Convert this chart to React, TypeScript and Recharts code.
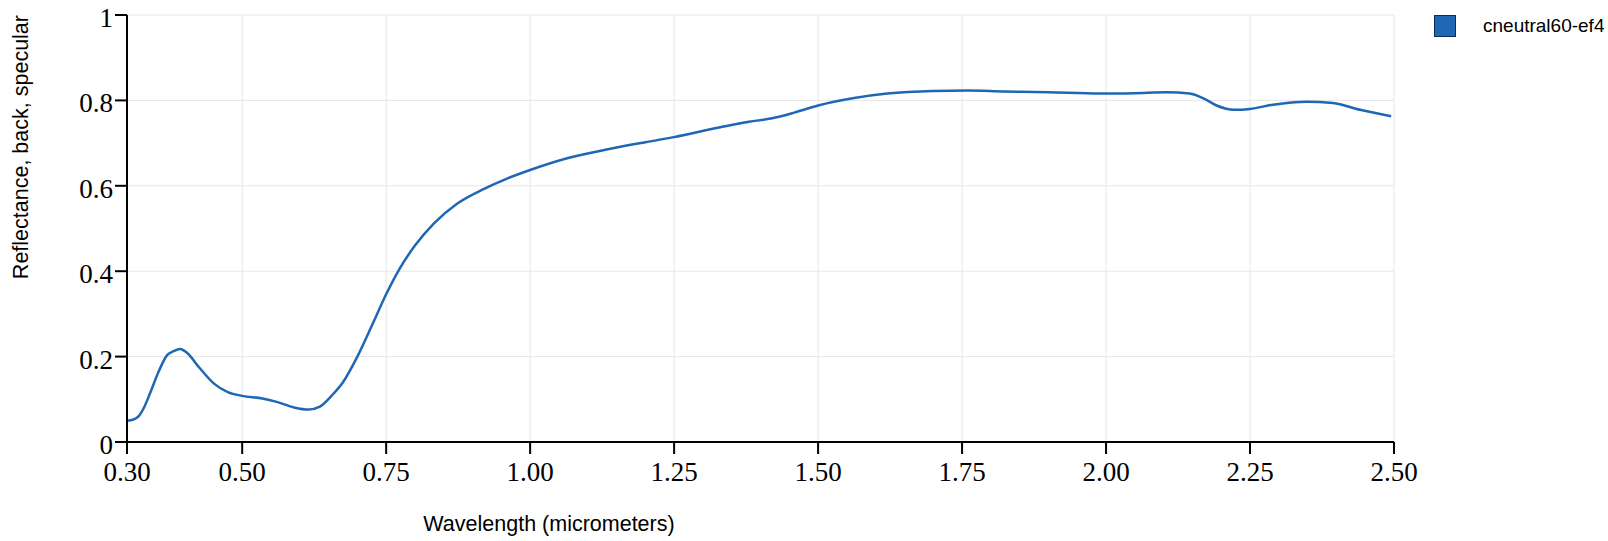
import React from 'react';
import { LineChart, Line, XAxis, YAxis, CartesianGrid } from 'recharts';

const SERIES_NAME = 'cneutral60-ef4';
const LINE_COLOR = '#1f67b4';

// wavelength (µm)
const wavelengths = [
  0.3, 0.31, 0.32, 0.33, 0.34, 0.355, 0.37, 0.38, 0.392, 0.405, 0.425, 0.45, 0.475, 0.5, 0.535, 0.56,
  0.59, 0.615, 0.635, 0.655, 0.675, 0.7, 0.727, 0.75, 0.773, 0.8, 0.833, 0.873, 0.92, 0.96, 1.0,
  1.066, 1.133, 1.2, 1.25, 1.33, 1.38, 1.42, 1.46, 1.5, 1.56, 1.62, 1.7, 1.76, 1.82, 1.9, 1.99,
  2.05, 2.105, 2.145, 2.17, 2.192, 2.222, 2.25, 2.29, 2.348, 2.394, 2.441, 2.495,
];

// back specular reflectance
const reflectance = [
  0.05, 0.052, 0.06, 0.082, 0.114, 0.165, 0.204, 0.212, 0.218, 0.208, 0.175, 0.138, 0.117, 0.108, 0.102, 0.094,
  0.081, 0.076, 0.083, 0.108, 0.14, 0.2, 0.278, 0.346, 0.405, 0.46, 0.512, 0.558, 0.593, 0.617, 0.637,
  0.665, 0.685, 0.702, 0.714, 0.737, 0.75, 0.758, 0.772, 0.788, 0.805, 0.816, 0.822, 0.823, 0.821, 0.819, 0.816,
  0.817, 0.819, 0.816, 0.804, 0.788, 0.778, 0.78, 0.79, 0.797, 0.794, 0.778, 0.763,
];

const xTicks = [0.3, 0.5, 0.75, 1.0, 1.25, 1.5, 1.75, 2.0, 2.25, 2.5];
const yTicks = [0, 0.2, 0.4, 0.6, 0.8, 1];

const data = wavelengths.map((w, i) => ({ w, r: reflectance[i] }));

const SERIF = '"Liberation Serif", "Times New Roman", serif';
const SANS = '"Liberation Sans", Arial, Helvetica, sans-serif';

const XTick = ({ x, y, payload }: any) => (
  <text x={x} y={y} dy={18} textAnchor="middle" fontFamily={SERIF} fontSize={27} fill="#000">
    {Number(payload.value).toFixed(2)}
  </text>
);

const YTick = ({ x, y, payload }: any) => (
  <text x={x} y={y} dy={12} textAnchor="end" fontFamily={SERIF} fontSize={27} fill="#000">
    {String(payload.value)}
  </text>
);

export default function App() {
  return (
    <div style={{ position: 'absolute', left: 0, top: 0, width: 1608, height: 541, background: '#fff' }}>
      <LineChart width={1608} height={541} data={data} margin={{ top: 15, right: 214, bottom: 0, left: 0 }}>
        <CartesianGrid stroke="#e6e6e6" strokeWidth={1} />
        <XAxis
          dataKey="w"
          type="number"
          domain={[0.3, 2.5]}
          ticks={xTicks}
          height={99}
          stroke="#000"
          strokeWidth={2}
          tickSize={12}
          tickMargin={9}
          tick={<XTick />}
          label={{
            content: ({ viewBox }: any) => (
              <text x={viewBox.x + 422} y={viewBox.y + 89} textAnchor="middle" fontFamily={SANS} fontSize={21.5} fill="#000">
                Wavelength (micrometers)
              </text>
            ),
          }}
        />
        <YAxis
          type="number"
          domain={[0, 1]}
          ticks={yTicks}
          width={127}
          stroke="#000"
          strokeWidth={2}
          tickSize={12}
          tickMargin={2}
          tick={<YTick />}
          label={{
            content: ({ viewBox }: any) => (
              <text
                x={28}
                y={viewBox.y}
                transform={`rotate(-90, 28, ${viewBox.y})`}
                textAnchor="end"
                fontFamily={SANS}
                fontSize={21.5}
                fill="#000"
              >
                Reflectance, back, specular
              </text>
            ),
          }}
        />
        <Line
          type="monotone"
          dataKey="r"
          name={SERIES_NAME}
          stroke={LINE_COLOR}
          strokeWidth={2.5}
          dot={false}
          isAnimationActive={false}
        />
      </LineChart>
      <div
        style={{
          position: 'absolute',
          left: 1434,
          top: 15,
          display: 'flex',
          alignItems: 'center',
          fontFamily: SANS,
          fontSize: 19,
          color: '#000',
          whiteSpace: 'nowrap',
        }}
      >
        <div style={{ width: 20, height: 20, background: LINE_COLOR, border: '1px solid #0f2c4d' }} />
        <span style={{ marginLeft: 27 }}>{SERIES_NAME}</span>
      </div>
    </div>
  );
}
